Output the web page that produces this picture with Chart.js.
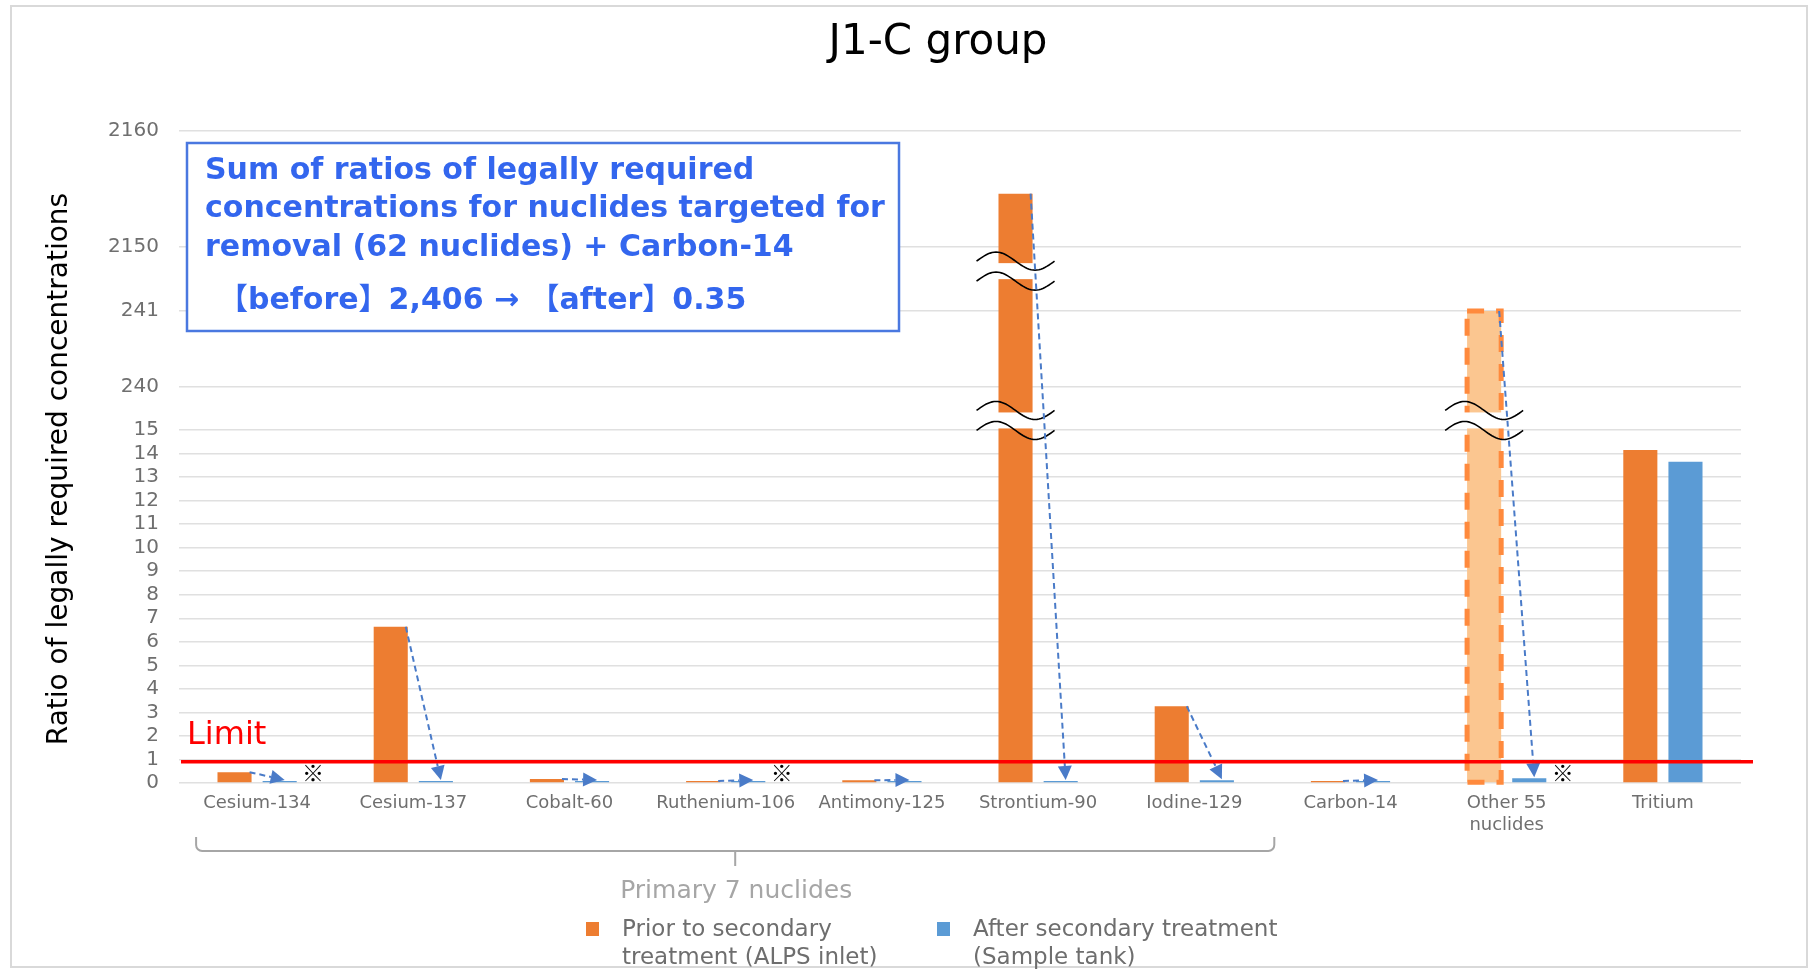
<!DOCTYPE html>
<html>
<head>
<meta charset="utf-8">
<title>J1-C group</title>
<script src="https://cdn.jsdelivr.net/npm/chart.js@4.4.1/dist/chart.umd.min.js"></script>
<style>
    html, body { margin: 0; padding: 0; background: #fff; }
    #chart { display: block; }
</style>
</head>
<body>
<canvas id="chart" width="1810" height="971"></canvas>
<script>
// J1-C group: ratio of legally required concentrations, before / after secondary treatment
var CATEGORIES = ['Cesium-134', 'Cesium-137', 'Cobalt-60', 'Ruthenium-106', 'Antimony-125',
    'Strontium-90', 'Iodine-129', 'Carbon-14', ['Other 55', 'nuclides'], 'Tritium'];
var PRIOR_VALUES = [0.46, 6.64, 0.17, 0.05, 0.12, 2154.6, 3.26, 0.05, 241.0, 14.15];
var AFTER_VALUES = [0.01, 0.01, 0.01, 0.005, 0.01, 0.02, 0.12, 0.01, 0.2, 13.65];
var SERIES_LABELS = ['Prior to secondary\ntreatment (ALPS inlet)', 'After secondary treatment\n(Sample tank)'];
var Y_TICKS = [0, 1, 2, 3, 4, 5, 6, 7, 8, 9, 10, 11, 12, 13, 14, 15, 240, 241, 2150, 2160];
var Y_TITLE = 'Ratio of legally required concentrations';
var LIMIT_VALUE = 0.9;
var NOTE_MARKS = [0, 3, 8];          // categories flagged with ※
var ARROW_CATEGORIES = [0, 1, 2, 3, 4, 5, 6, 7, 8];
var BRACKET_CATEGORIES = [0, 6];     // "Primary 7 nuclides"
var BRACKET_LABEL = 'Primary 7 nuclides';
var HIGHLIGHT_CATEGORY = 8;
var BREAK_VALUES = [65, 1430];
var SUMMARY_LINES = ['Sum of ratios of legally required',
    'concentrations for nuclides targeted for',
    'removal (62 nuclides) + Carbon-14'];
var SUMMARY_RESULT = '【before】2,406 → 【after】0.35';

// broken axis: value -> share of axis height
var AXIS_KNOTS = [[0, 0], [15, 0.5414], [240, 0.6074], [241, 0.7239], [2150, 0.8221], [2160, 1]];

var COLORS = {
    prior: '#ed7d31',
    priorLight: '#fbc690',
    priorDash: '#ff8a3d',
    after: '#5b9bd5',
    arrow: '#4a7bc8',
    grid: '#e0e0e0',
    tick: '#6f6f6f',
    limit: '#ff0000',
    summary: '#3366ee',
    bracket: '#a6a6a6'
};
var FONT = '"DejaVu Sans", Verdana, sans-serif';

function valueToShare(v) {
    var k = AXIS_KNOTS;
    if (v <= k[0][0]) return k[0][1];
    for (var i = 1; i < k.length; i++) {
        if (v <= k[i][0]) {
            var t = (v - k[i - 1][0]) / (k[i][0] - k[i - 1][0]);
            return k[i - 1][1] + t * (k[i][1] - k[i - 1][1]);
        }
    }
    return 1;
}

function shareToValue(s) {
    var k = AXIS_KNOTS;
    for (var i = 1; i < k.length; i++) {
        if (s <= k[i][1]) {
            var t = (s - k[i - 1][1]) / (k[i][1] - k[i - 1][1]);
            return k[i - 1][0] + t * (k[i][0] - k[i - 1][0]);
        }
    }
    return k[k.length - 1][0];
}

class BrokenLinearScale extends Chart.LinearScale {
    buildTicks() {
        return Y_TICKS.map(function (v) { return { value: v }; });
    }
    getPixelForValue(value) {
        if (value === null || isNaN(value)) return NaN;
        return this.getPixelForDecimal(valueToShare(value));
    }
    getValueForPixel(pixel) {
        return shareToValue(this.getDecimalForPixel(pixel));
    }
}
BrokenLinearScale.id = 'brokenLinear';
BrokenLinearScale.defaults = {};
Chart.register(BrokenLinearScale);

function drawArrow(ctx, x1, y1, x2, y2) {
    var ang = Math.atan2(y2 - y1, x2 - x1);
    var headLen = 14, headW = 7;
    var bx = x2 - headLen * Math.cos(ang), by = y2 - headLen * Math.sin(ang);
    ctx.save();
    ctx.strokeStyle = COLORS.arrow;
    ctx.fillStyle = COLORS.arrow;
    ctx.lineWidth = 2;
    ctx.setLineDash([6, 4]);
    ctx.beginPath();
    ctx.moveTo(x1, y1);
    ctx.lineTo(bx, by);
    ctx.stroke();
    ctx.setLineDash([]);
    ctx.beginPath();
    ctx.moveTo(x2, y2);
    ctx.lineTo(bx + headW * Math.sin(ang), by - headW * Math.cos(ang));
    ctx.lineTo(bx - headW * Math.sin(ang), by + headW * Math.cos(ang));
    ctx.closePath();
    ctx.fill();
    ctx.restore();
}

function drawWave(ctx, x0, x1, yc, amp) {
    ctx.beginPath();
    for (var s = 0; s <= 40; s++) {
        var t = s / 40;
        var x = x0 + t * (x1 - x0);
        var y = yc - amp * Math.sin(2 * Math.PI * t);
        if (s === 0) ctx.moveTo(x, y); else ctx.lineTo(x, y);
    }
    ctx.stroke();
}

var overlayPlugin = {
    id: 'overlay',
    beforeDraw: function (chart) {
        var ctx = chart.ctx;
        ctx.save();
        ctx.fillStyle = '#fff';
        ctx.fillRect(0, 0, chart.width, chart.height);
        ctx.strokeStyle = '#d9d9d9';
        ctx.lineWidth = 2;
        ctx.strokeRect(11, 6, chart.width - 14, chart.height - 10);
        ctx.fillStyle = '#000';
        ctx.font = '42px ' + FONT;
        ctx.textAlign = 'center';
        ctx.textBaseline = 'middle';
        ctx.fillText('J1-C group', 938, 43);
        // y axis title
        ctx.translate(60, 469);
        ctx.rotate(-Math.PI / 2);
        ctx.font = '28px ' + FONT;
        ctx.fillText(Y_TITLE, 0, 0);
        ctx.restore();
    },
    afterDatasetsDraw: function (chart) {
        var ctx = chart.ctx;
        var area = chart.chartArea;
        var xs = chart.scales.x, ys = chart.scales.y;
        var prior = chart.getDatasetMeta(0).data;
        var after = chart.getDatasetMeta(1).data;
        var zeroY = ys.getPixelForValue(0);

        ctx.save();

        // dashed outline on the highlighted bar
        var hb = prior[HIGHLIGHT_CATEGORY];
        ctx.strokeStyle = COLORS.priorDash;
        ctx.lineWidth = 5;
        ctx.setLineDash([17, 12]);
        ctx.strokeRect(hb.x - hb.width / 2, hb.y, hb.width, hb.base - hb.y);
        ctx.setLineDash([]);

        // axis break marks on the tall bars
        prior.forEach(function (bar, i) {
            BREAK_VALUES.forEach(function (bv) {
                if (PRIOR_VALUES[i] <= bv) return;
                var y = ys.getPixelForValue(bv);
                ctx.fillStyle = '#fff';
                ctx.fillRect(bar.x - bar.width / 2 - 4, y - 8, bar.width + 8, 16);
                ctx.strokeStyle = '#000';
                ctx.lineWidth = 1.6;
                drawWave(ctx, bar.x - 39, bar.x + 39, y - 10, 9);
                drawWave(ctx, bar.x - 39, bar.x + 39, y + 10, 9);
            });
        });

        // before -> after arrows
        ARROW_CATEGORIES.forEach(function (i) {
            var o = prior[i], b = after[i];
            drawArrow(ctx, o.x + o.width / 2 - 2, o.y, b.x + 5, b.y - 1);
        });

        // ※ marks
        ctx.fillStyle = '#000';
        ctx.font = '22px "Noto Sans CJK JP", ' + FONT;
        ctx.textAlign = 'center';
        ctx.textBaseline = 'middle';
        NOTE_MARKS.forEach(function (i) {
            ctx.fillText('※', xs.getPixelForValue(i) + 56, zeroY - 10);
        });

        // limit line
        var ly = ys.getPixelForValue(LIMIT_VALUE);
        ctx.strokeStyle = COLORS.limit;
        ctx.lineWidth = 3.5;
        ctx.beginPath();
        ctx.moveTo(area.left + 2, ly);
        ctx.lineTo(area.right + 12, ly);
        ctx.stroke();
        ctx.fillStyle = COLORS.limit;
        ctx.font = '32px ' + FONT;
        ctx.textAlign = 'left';
        ctx.textBaseline = 'alphabetic';
        ctx.fillText('Limit', area.left + 8, ly - 18);

        // summary box
        var bx = area.left + 8, by = area.top + 12, bw = 712, bh = 188;
        ctx.fillStyle = '#fff';
        ctx.fillRect(bx, by, bw, bh);
        ctx.strokeStyle = '#4a78e0';
        ctx.lineWidth = 2.5;
        ctx.strokeRect(bx, by, bw, bh);
        ctx.fillStyle = COLORS.summary;
        ctx.font = 'bold 30px ' + FONT;
        ctx.textBaseline = 'middle';
        SUMMARY_LINES.forEach(function (line, k) {
            ctx.fillText(line, bx + 18, by + 28 + k * 38.5);
        });
        ctx.font = 'bold 30px ' + FONT + ', "Noto Sans CJK JP"';
        ctx.fillText(SUMMARY_RESULT, bx + 31, by + 158);

        // bracket under the primary nuclides
        var left = xs.getPixelForValue(BRACKET_CATEGORIES[0]) - 61;
        var right = xs.getPixelForValue(BRACKET_CATEGORIES[1]) + 80;
        var mid = (left + right) / 2;
        var top = area.bottom + 54, line = area.bottom + 68;
        ctx.strokeStyle = COLORS.bracket;
        ctx.lineWidth = 2;
        ctx.beginPath();
        ctx.moveTo(left, top);
        ctx.arcTo(left, line, left + 8, line, 6);
        ctx.lineTo(right - 6, line);
        ctx.arcTo(right, line, right, top, 6);
        ctx.lineTo(right, top);
        ctx.moveTo(mid, line);
        ctx.lineTo(mid, line + 15);
        ctx.stroke();
        ctx.fillStyle = COLORS.bracket;
        ctx.font = '25px ' + FONT;
        ctx.textAlign = 'center';
        ctx.fillText(BRACKET_LABEL, mid + 1, area.bottom + 108);

        // legend
        var legendX = [586, 937];
        chart.data.datasets.forEach(function (ds, k) {
            var lx = legendX[k];
            ctx.fillStyle = Array.isArray(ds.backgroundColor) ? ds.backgroundColor[0] : ds.backgroundColor;
            ctx.fillRect(lx, 922, 13, 14);
            ctx.fillStyle = '#6e6e6e';
            ctx.font = '23px ' + FONT;
            ctx.textAlign = 'left';
            ds.label.split('\n').forEach(function (t, j) {
                ctx.fillText(t, lx + 36, 930 + j * 28);
            });
        });

        ctx.restore();
    }
};

new Chart(document.getElementById('chart'), {
    type: 'bar',
    data: {
        labels: CATEGORIES,
        datasets: [{
            label: SERIES_LABELS[0],
            data: PRIOR_VALUES,
            backgroundColor: PRIOR_VALUES.map(function (v, i) {
                return i === HIGHLIGHT_CATEGORY ? COLORS.priorLight : COLORS.prior;
            })
        }, {
            label: SERIES_LABELS[1],
            data: AFTER_VALUES,
            backgroundColor: COLORS.after
        }]
    },
    options: {
        responsive: false,
        animation: false,
        datasets: {
            bar: { categoryPercentage: 0.578, barPercentage: 0.755, minBarLength: 2, borderWidth: 0 }
        },
        layout: { padding: { top: 131, right: 69, bottom: 0, left: 0 } },
        plugins: {
            legend: { display: false },
            title: { display: false },
            tooltip: { enabled: false }
        },
        scales: {
            x: {
                type: 'category',
                grid: { display: false, drawTicks: false },
                border: { display: false },
                ticks: {
                    color: COLORS.tick,
                    font: { family: FONT, size: 18 },
                    padding: 10,
                    maxRotation: 0,
                    autoSkip: false
                },
                afterFit: function (scale) { scale.height = 188; }
            },
            y: {
                type: 'brokenLinear',
                min: 0,
                max: 2160,
                grid: { color: COLORS.grid, lineWidth: 1.5, drawTicks: false },
                border: { display: false },
                ticks: {
                    autoSkip: false,
                    padding: 20,
                    color: COLORS.tick,
                    font: { family: FONT, size: 20 },
                    callback: function (v) { return String(v); }
                },
                afterFit: function (scale) { scale.width = 179; }
            }
        }
    },
    plugins: [overlayPlugin]
});
</script>
</body>
</html>
